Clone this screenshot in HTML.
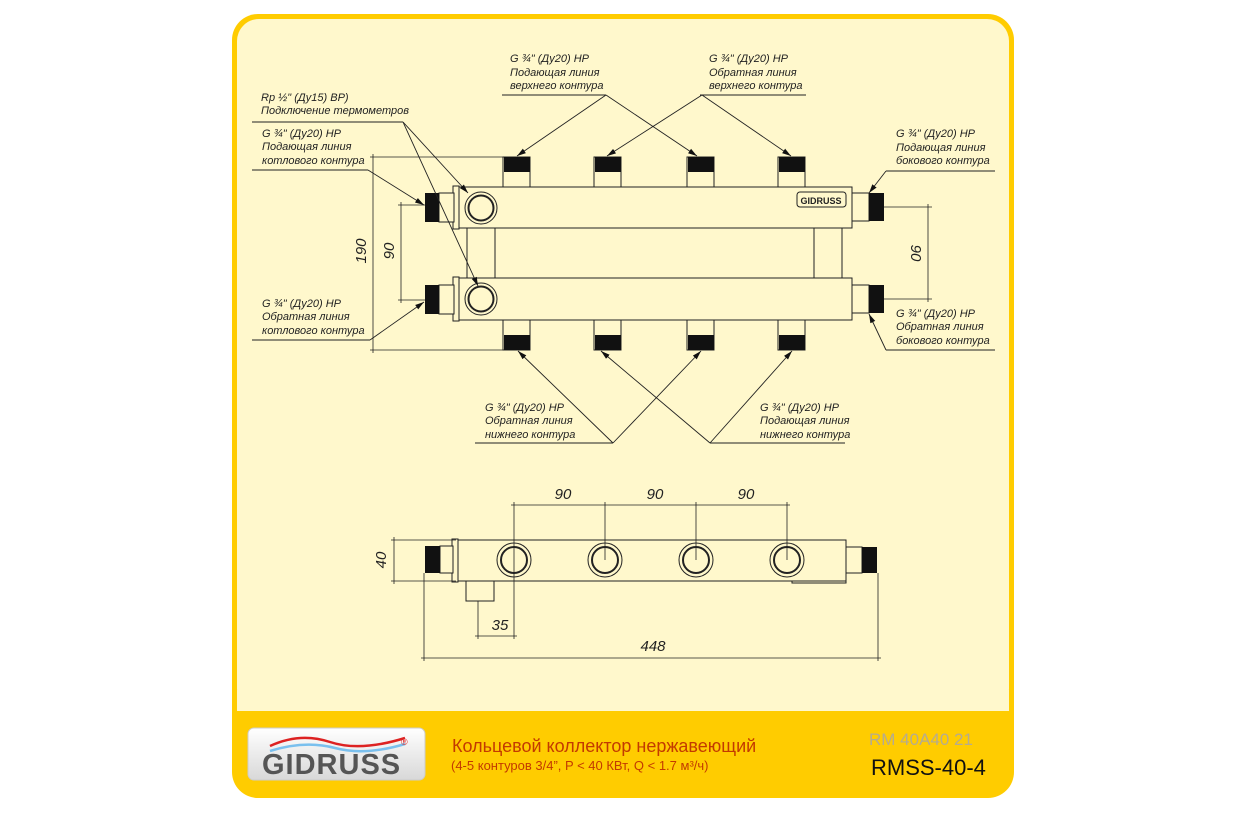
<!DOCTYPE html>
<html><head><meta charset="utf-8"><style>
html,body{margin:0;padding:0;background:#fff;}
svg{display:block;}
.t{font-family:"Liberation Sans Narrow","Liberation Sans",sans-serif;font-style:italic;font-size:11px;fill:#222;}
.d{font-family:"Liberation Sans Narrow","Liberation Sans",sans-serif;font-style:italic;font-size:15px;fill:#222;}
.ft{font-family:"Liberation Sans Narrow","Liberation Sans",sans-serif;}
</style></head><body>
<svg width="1233" height="814" viewBox="0 0 1233 814" xmlns="http://www.w3.org/2000/svg">
<defs>
<marker id="a" viewBox="0 0 10 10" refX="10" refY="5" markerWidth="9" markerHeight="9" orient="auto-start-reverse" markerUnits="userSpaceOnUse"><path d="M0,2 L10,5 L0,8 z" fill="#111"/></marker>
<linearGradient id="lg" x1="0" y1="0" x2="0" y2="1"><stop offset="0" stop-color="#fff"/><stop offset="1" stop-color="#d8d8d8"/></linearGradient>
</defs>
<rect x="232" y="14" width="782" height="784" rx="26" fill="#FFCC00"/>
<rect x="237" y="19" width="772" height="692" rx="22" fill="#FFF8CC"/>
<rect x="237" y="690" width="772" height="21" fill="#FFF8CC"/>

<g stroke="#222" stroke-width="1" fill="#FFF8CC">
<rect x="503" y="157" width="27" height="30"/><rect x="594" y="157" width="27" height="30"/><rect x="687" y="157" width="27" height="30"/><rect x="778" y="157" width="27" height="30"/>
<rect x="503" y="320" width="27" height="30"/><rect x="594" y="320" width="27" height="30"/><rect x="687" y="320" width="27" height="30"/><rect x="778" y="320" width="27" height="30"/>
<rect x="467" y="228" width="28" height="50"/><rect x="814" y="228" width="28" height="50"/>
<rect x="457" y="187" width="395" height="41"/><rect x="457" y="278" width="395" height="42"/>
<rect x="453" y="186" width="6" height="43"/><rect x="453" y="277" width="6" height="44"/>
<rect x="439" y="193" width="15" height="29"/><rect x="439" y="285" width="15" height="29"/>
<rect x="852" y="193" width="17" height="28"/><rect x="852" y="285" width="17" height="28"/>
<circle cx="481" cy="208" r="16"/><circle cx="481" cy="208" r="12.5" stroke-width="2"/>
<circle cx="481" cy="299" r="16"/><circle cx="481" cy="299" r="12.5" stroke-width="2"/>
<rect x="797" y="192" width="49" height="15" rx="3"/>
</g>
<g fill="#111">
<rect x="504" y="157" width="26" height="15"/><rect x="595" y="157" width="26" height="15"/><rect x="688" y="157" width="26" height="15"/><rect x="779" y="157" width="26" height="15"/>
<rect x="504" y="335" width="26" height="15"/><rect x="595" y="335" width="26" height="15"/><rect x="688" y="335" width="26" height="15"/><rect x="779" y="335" width="26" height="15"/>
<rect x="425" y="193" width="14" height="29"/><rect x="425" y="285" width="14" height="29"/>
<rect x="869" y="193" width="15" height="28"/><rect x="869" y="285" width="15" height="28"/>
</g>
<text x="821" y="204" font-family="Liberation Sans" font-weight="bold" font-size="9" text-anchor="middle" fill="#222">GIDRUSS</text>

<g stroke="#222" stroke-width="0.8" fill="none">
<line x1="370" y1="157" x2="503" y2="157"/><line x1="370" y1="350" x2="503" y2="350"/>
<line x1="373" y1="154" x2="373" y2="353"/>
<line x1="398" y1="205" x2="425" y2="205"/><line x1="398" y1="300" x2="425" y2="300"/>
<line x1="401" y1="202" x2="401" y2="303"/>
<line x1="884" y1="207" x2="932" y2="207"/><line x1="884" y1="299" x2="932" y2="299"/>
<line x1="928" y1="204" x2="928" y2="302"/>
</g>
<text class="d" transform="translate(366,251) rotate(-90)" text-anchor="middle">190</text>
<text class="d" transform="translate(394,251) rotate(-90)" text-anchor="middle">90</text>
<text class="d" transform="translate(911,253) rotate(90)" text-anchor="middle">90</text>

<g stroke="#222" stroke-width="0.9" fill="none">
<line x1="502" y1="95" x2="606" y2="95"/>
<line x1="606" y1="95" x2="517" y2="156" marker-end="url(#a)"/>
<line x1="606" y1="95" x2="697" y2="156" marker-end="url(#a)"/>
<line x1="700" y1="95" x2="806" y2="95"/>
<line x1="702" y1="95" x2="607" y2="156" marker-end="url(#a)"/>
<line x1="702" y1="95" x2="791" y2="156" marker-end="url(#a)"/>
<line x1="252" y1="122" x2="403" y2="122"/>
<line x1="403" y1="122" x2="468" y2="193" marker-end="url(#a)"/>
<line x1="403" y1="122" x2="478" y2="286" marker-end="url(#a)"/>
<line x1="252" y1="170" x2="368" y2="170"/>
<line x1="368" y1="170" x2="424" y2="205" marker-end="url(#a)"/>
<line x1="252" y1="340" x2="370" y2="340"/>
<line x1="370" y1="340" x2="424" y2="302" marker-end="url(#a)"/>
<line x1="886" y1="171" x2="995" y2="171"/>
<line x1="886" y1="171" x2="869" y2="193" marker-end="url(#a)"/>
<line x1="886" y1="350" x2="995" y2="350"/>
<line x1="886" y1="350" x2="869" y2="314" marker-end="url(#a)"/>
<line x1="475" y1="443" x2="613" y2="443"/>
<line x1="613" y1="443" x2="518" y2="351" marker-end="url(#a)"/>
<line x1="613" y1="443" x2="701" y2="351" marker-end="url(#a)"/>
<line x1="710" y1="443" x2="845" y2="443"/>
<line x1="710" y1="443" x2="601" y2="351" marker-end="url(#a)"/>
<line x1="710" y1="443" x2="792" y2="351" marker-end="url(#a)"/>
</g>
<g class="t">
<text x="510" y="62">G ¾" (Ду20) НР</text><text x="510" y="76">Подающая линия</text><text x="510" y="89">верхнего контура</text>
<text x="709" y="62">G ¾" (Ду20) НР</text><text x="709" y="76">Обратная линия</text><text x="709" y="89">верхнего контура</text>
<text x="261" y="101">Rp ½" (Ду15) ВР)</text><text x="261" y="114">Подключение термометров</text>
<text x="262" y="137">G ¾" (Ду20) НР</text><text x="262" y="150">Подающая линия</text><text x="262" y="164">котлового контура</text>
<text x="262" y="307">G ¾" (Ду20) НР</text><text x="262" y="320">Обратная линия</text><text x="262" y="334">котлового контура</text>
<text x="896" y="137">G ¾" (Ду20) НР</text><text x="896" y="151">Подающая линия</text><text x="896" y="164">бокового контура</text>
<text x="896" y="317">G ¾" (Ду20) НР</text><text x="896" y="330">Обратная линия</text><text x="896" y="344">бокового контура</text>
<text x="485" y="411">G ¾" (Ду20) НР</text><text x="485" y="424">Обратная линия</text><text x="485" y="438">нижнего контура</text>
<text x="760" y="411">G ¾" (Ду20) НР</text><text x="760" y="424">Подающая линия</text><text x="760" y="438">нижнего контура</text>
</g>

<g stroke="#222" stroke-width="1" fill="#FFF8CC">
<rect x="466" y="581" width="28" height="20"/>
<rect x="792" y="581" width="54" height="2"/>
<rect x="456" y="540" width="390" height="41"/>
<rect x="452" y="539" width="6" height="43"/>
<rect x="440" y="546" width="13" height="27"/>
<rect x="846" y="547" width="16" height="26"/>
<circle cx="514" cy="560" r="17"/><circle cx="514" cy="560" r="13" stroke-width="2"/>
<circle cx="605" cy="560" r="17"/><circle cx="605" cy="560" r="13" stroke-width="2"/>
<circle cx="696" cy="560" r="17"/><circle cx="696" cy="560" r="13" stroke-width="2"/>
<circle cx="787" cy="560" r="17"/><circle cx="787" cy="560" r="13" stroke-width="2"/>
</g>
<rect x="425" y="546" width="15" height="27" fill="#111"/><rect x="862" y="547" width="15" height="26" fill="#111"/>
<g stroke="#222" stroke-width="0.8" fill="none">
<line x1="511" y1="505" x2="790" y2="505"/>
<line x1="514" y1="502" x2="514" y2="639"/><line x1="605" y1="502" x2="605" y2="560"/><line x1="696" y1="502" x2="696" y2="560"/><line x1="787" y1="502" x2="787" y2="560"/>
<line x1="391" y1="540" x2="456" y2="540"/><line x1="391" y1="581" x2="456" y2="581"/><line x1="394" y1="537" x2="394" y2="584"/>
<line x1="478" y1="601" x2="478" y2="639"/><line x1="475" y1="636" x2="517" y2="636"/>
<line x1="424" y1="573" x2="424" y2="661"/><line x1="878" y1="573" x2="878" y2="661"/><line x1="421" y1="658" x2="881" y2="658"/>
</g>
<g class="d">
<text x="563" y="499" text-anchor="middle">90</text><text x="655" y="499" text-anchor="middle">90</text><text x="746" y="499" text-anchor="middle">90</text>
<text x="500" y="630" text-anchor="middle">35</text><text x="653" y="651" text-anchor="middle">448</text>
<text transform="translate(386,560) rotate(-90)" text-anchor="middle">40</text>
</g>

<rect x="248" y="728" width="177" height="52" rx="6" fill="url(#lg)" stroke="#ccc"/>
<path d="M270,746 Q300,732 330,742 T405,738" stroke="#d22" stroke-width="2.5" fill="none"/>
<path d="M270,751 Q305,740 335,748 T405,744" stroke="#7ac0ee" stroke-width="2.5" fill="none"/>
<text x="262" y="774" font-family="Liberation Sans" font-weight="bold" font-size="29" fill="#555" letter-spacing="1">GIDRUSS</text>
<text x="401" y="745" font-family="Liberation Sans" font-size="9" fill="#d22">®</text>
<text class="ft" x="452" y="752" font-size="18" fill="#c33a00">Кольцевой коллектор нержавеющий</text>
<text class="ft" x="451" y="770" font-size="13" fill="#c33a00">(4-5 контуров 3/4”, P &lt; 40 КВт, Q &lt; 1.7 м³/ч)</text>
<text x="869" y="745" font-family="Liberation Sans" font-size="17" fill="#b5ab90">RM 40A40 21</text>
<text x="871" y="775" font-family="Liberation Sans" font-size="22" fill="#111">RMSS-40-4</text>
</svg>
</body></html>
